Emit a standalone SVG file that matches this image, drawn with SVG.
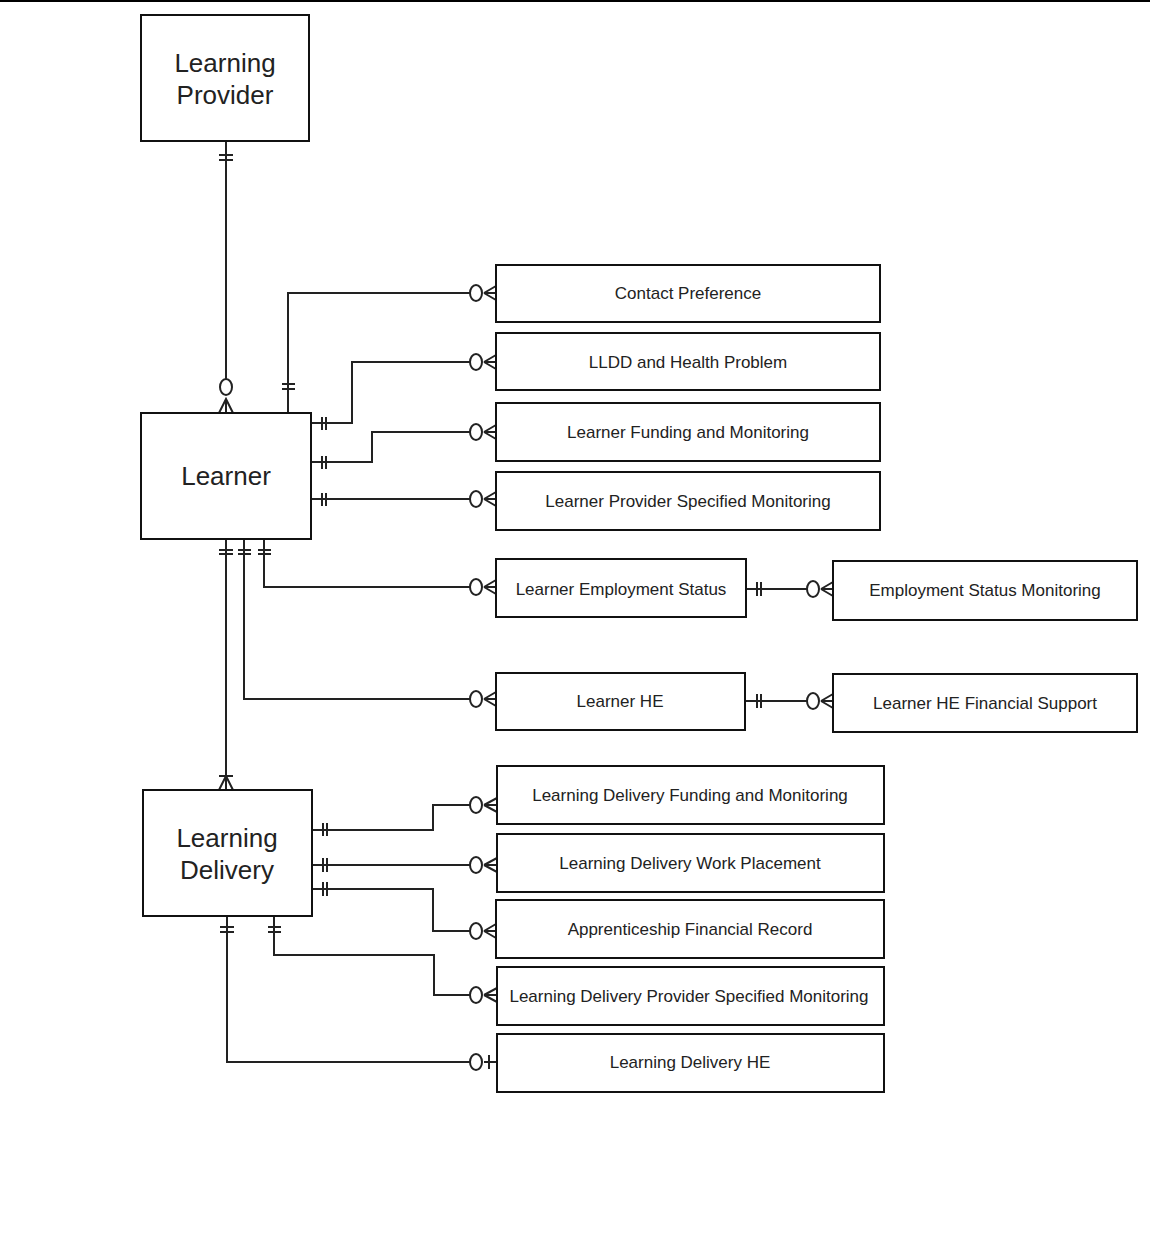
<svg xmlns="http://www.w3.org/2000/svg" width="1150" height="1249" viewBox="0 0 1150 1249">
<style>
.box{fill:#fff;stroke:#111;stroke-width:2}
.big{font-family:"Liberation Sans",Arial,sans-serif;font-size:26px;fill:#222;text-anchor:middle}
.sm{font-family:"Liberation Sans",Arial,sans-serif;font-size:17px;fill:#222;text-anchor:middle}
.c{fill:none;stroke:#222;stroke-width:2}
.o{fill:#fff;stroke:#222;stroke-width:2}
</style>
<rect width="1150" height="1249" fill="#fff"/>
<line x1="0" y1="1" x2="1150" y2="1" stroke="#000" stroke-width="2"/>
<g id="connectors">
<!-- LP - Learner -->
<path class="c" d="M226,141V379M219,155H233M219,160H233M219,413L226,399L233,413M226,399V413"/>
<ellipse class="o" cx="226" cy="387" rx="6" ry="8"/>
<!-- Contact Preference -->
<path class="c" d="M288,413V293H470M282,384H295M282,389H295M484,293L496,286M484,293L496,300M484,293H496"/>
<ellipse class="o" cx="476" cy="293" rx="6" ry="8"/>
<!-- LLDD -->
<path class="c" d="M311,423H352V362H470M322,417V430M326,417V430M484,362L496,355M484,362L496,369M484,362H496"/>
<ellipse class="o" cx="476" cy="362" rx="6" ry="8"/>
<!-- LFM -->
<path class="c" d="M311,462H372V432H470M322,456V469M326,456V469M484,432L496,425M484,432L496,439M484,432H496"/>
<ellipse class="o" cx="476" cy="432" rx="6" ry="8"/>
<!-- LPSM -->
<path class="c" d="M311,499H470M322,493V506M326,493V506M484,499L496,492M484,499L496,506M484,499H496"/>
<ellipse class="o" cx="476" cy="499" rx="6" ry="8"/>
<!-- LES -->
<path class="c" d="M264,539V587H470M258,550H271M258,554H271M484,587L496,580M484,587L496,594M484,587H496"/>
<ellipse class="o" cx="476" cy="587" rx="6" ry="8"/>
<!-- LHE -->
<path class="c" d="M244,539V699H470M238,550H251M238,554H251M484,699L496,692M484,699L496,706M484,699H496"/>
<ellipse class="o" cx="476" cy="699" rx="6" ry="8"/>
<!-- Learner - LD -->
<path class="c" d="M226,539V790M219,550H233M219,554H233M219,776H233M219,790L226,776L233,790"/>
<!-- LES - ESM -->
<path class="c" d="M746,589H810M757,582V596M761,582V596M821,589L833,582M821,589L833,596M821,589H833"/>
<ellipse class="o" cx="813" cy="589" rx="6" ry="8"/>
<!-- LHE - LHEFS -->
<path class="c" d="M745,701H810M757,694V708M761,694V708M821,701L833,694M821,701L833,708M821,701H833"/>
<ellipse class="o" cx="813" cy="701" rx="6" ry="8"/>
<!-- LDFM -->
<path class="c" d="M312,830H433V805H470M323,823V836M327,823V836M484,805L497,798M484,805L497,812M484,805H497"/>
<ellipse class="o" cx="476" cy="805" rx="6" ry="8"/>
<!-- LDWP -->
<path class="c" d="M312,865H470M323,858V872M327,858V872M484,865L497,858M484,865L497,872M484,865H497"/>
<ellipse class="o" cx="476" cy="865" rx="6" ry="8"/>
<!-- AFR -->
<path class="c" d="M312,889H433V931H470M323,882V896M327,882V896M484,931L496,924M484,931L496,938M484,931H496"/>
<ellipse class="o" cx="476" cy="931" rx="6" ry="8"/>
<!-- LDPSM -->
<path class="c" d="M274,916V955H434V995H470M268,927H281M268,932H281M484,995L497,988M484,995L497,1002M484,995H497"/>
<ellipse class="o" cx="476" cy="995" rx="6" ry="8"/>
<!-- LDHE -->
<path class="c" d="M227,916V1062H470M220,927H234M220,932H234M484,1062H497M489,1055V1069"/>
<ellipse class="o" cx="476" cy="1062" rx="6" ry="8"/>
</g>
<g id="learning-provider"><rect class="box" x="141" y="15" width="168" height="126"/><text class="big" x="225" y="72">Learning</text><text class="big" x="225" y="104">Provider</text></g>
<g id="learner"><rect class="box" x="141" y="413" width="170" height="126"/><text class="big" x="226" y="485">Learner</text></g>
<g id="learning-delivery"><rect class="box" x="143" y="790" width="169" height="126"/><text class="big" x="227" y="847">Learning</text><text class="big" x="227" y="879">Delivery</text></g>
<g id="contact-preference"><rect class="box" x="496" y="265" width="384" height="57"/><text class="sm" x="688" y="299">Contact Preference</text></g>
<g id="lldd"><rect class="box" x="496" y="333" width="384" height="57"/><text class="sm" x="688" y="368">LLDD and Health Problem</text></g>
<g id="lfm"><rect class="box" x="496" y="403" width="384" height="58"/><text class="sm" x="688" y="438">Learner Funding and Monitoring</text></g>
<g id="lpsm"><rect class="box" x="496" y="472" width="384" height="58"/><text class="sm" x="688" y="507">Learner Provider Specified Monitoring</text></g>
<g id="les"><rect class="box" x="496" y="559" width="250" height="58"/><text class="sm" x="621" y="595">Learner Employment Status</text></g>
<g id="esm"><rect class="box" x="833" y="561" width="304" height="59"/><text class="sm" x="985" y="596">Employment Status Monitoring</text></g>
<g id="learner-he"><rect class="box" x="496" y="673" width="249" height="57"/><text class="sm" x="620" y="707">Learner HE</text></g>
<g id="lhefs"><rect class="box" x="833" y="674" width="304" height="58"/><text class="sm" x="985" y="709">Learner HE Financial Support</text></g>
<g id="ldfm"><rect class="box" x="497" y="766" width="387" height="58"/><text class="sm" x="690" y="801">Learning Delivery Funding and Monitoring</text></g>
<g id="ldwp"><rect class="box" x="497" y="834" width="387" height="58"/><text class="sm" x="690" y="869">Learning Delivery Work Placement</text></g>
<g id="afr"><rect class="box" x="496" y="900" width="388" height="58"/><text class="sm" x="690" y="935">Apprenticeship Financial Record</text></g>
<g id="ldpsm"><rect class="box" x="497" y="967" width="387" height="58"/><text class="sm" x="689" y="1002">Learning Delivery Provider Specified Monitoring</text></g>
<g id="ldhe"><rect class="box" x="497" y="1034" width="387" height="58"/><text class="sm" x="690" y="1068">Learning Delivery HE</text></g>
</svg>
